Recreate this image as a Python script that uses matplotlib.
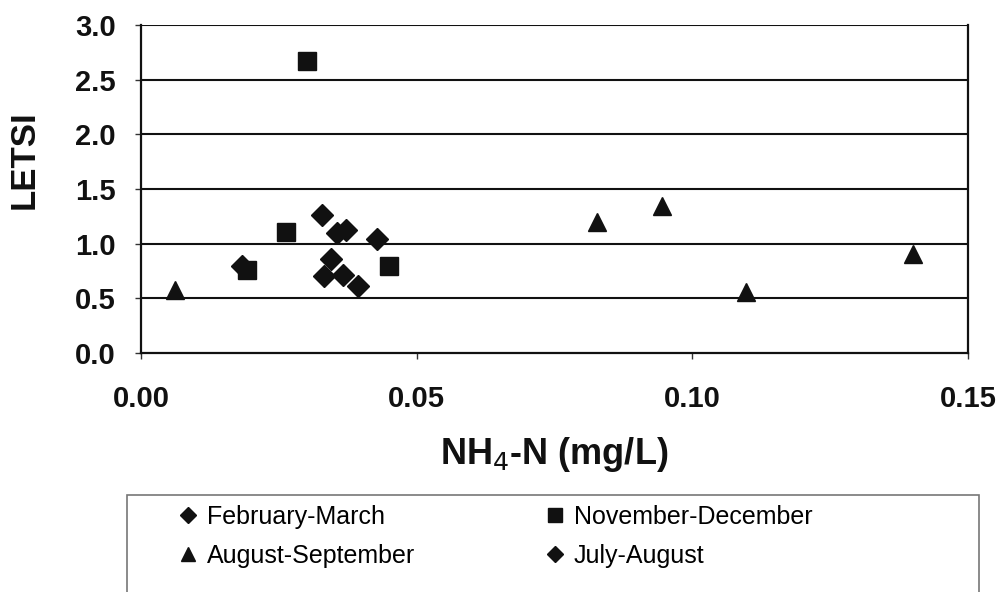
import numpy as np
import matplotlib
matplotlib.use("Agg")
import matplotlib.pyplot as plt
from matplotlib.patches import Rectangle

plt.rcParams['font.family'] = ['Liberation Sans', 'DejaVu Sans']

# data
feb_mar_x = [0.0183, 0.0328, 0.0356, 0.0372, 0.0428]
feb_mar_y = [0.80, 1.26, 1.10, 1.125, 1.04]
nov_dec_x = [0.0192, 0.0263, 0.0301, 0.0450]
nov_dec_y = [0.76, 1.11, 2.67, 0.80]
aug_sep_x = [0.0062, 0.0827, 0.0945, 0.1097, 0.1400]
aug_sep_y = [0.58, 1.20, 1.34, 0.56, 0.91]
jul_aug_x = [0.0345, 0.0332, 0.0366, 0.0394]
jul_aug_y = [0.86, 0.70, 0.71, 0.61]

xticks = [0.00, 0.05, 0.10, 0.15]
yticks = [0.0, 0.5, 1.0, 1.5, 2.0, 2.5, 3.0]

mk = '#111111'

fig = plt.figure(figsize=(10.04, 5.92), dpi=100)
ax = fig.add_axes([0.1404, 0.4037, 0.8237, 0.5541])

for y in yticks[1:]:
    ax.axhline(y, color='#111111', lw=1.5, zorder=1)

h1, = ax.plot(feb_mar_x, feb_mar_y, ls='none', marker='D', ms=11, color=mk, zorder=3)
h2, = ax.plot(nov_dec_x, nov_dec_y, ls='none', marker='s', ms=13.5, color=mk, zorder=3)
h3, = ax.plot(aug_sep_x, aug_sep_y, ls='none', marker='^', ms=13, color=mk, zorder=3)
h4, = ax.plot(jul_aug_x, jul_aug_y, ls='none', marker='D', ms=11, color=mk, zorder=3)

ax.set_xlim(0, 0.15)
ax.set_ylim(0, 3.0)
ax.set_xticks(xticks)
ax.set_xticklabels(['%.2f' % v for v in xticks])
ax.set_yticks(yticks)
ax.set_yticklabels(['%.1f' % v for v in yticks])
ax.tick_params(direction='out', length=4, width=1, color='#333333', labelsize=21)
ax.tick_params(axis='y', pad=14)
ax.tick_params(axis='x', pad=19)
for lab in ax.get_xticklabels() + ax.get_yticklabels():
    lab.set_fontweight('bold')
    lab.set_color('#111111')

for side in ['left', 'bottom', 'right']:
    ax.spines[side].set_linewidth(1.6)
    ax.spines[side].set_color('#111111')
ax.spines['top'].set_visible(False)

ax.set_xlabel('NH$_4$-N (mg/L)', fontsize=26, fontweight='bold', color='#111111')
ax.xaxis.set_label_coords(0.5, -0.25)
ax.set_ylabel('LETSI', fontsize=25, fontweight='bold', color='#111111')
ax.yaxis.set_label_coords(-0.121, 0.59)

fig.patches.append(Rectangle((0.1265, -0.01), 0.8486, 0.1739, transform=fig.transFigure,
                             fill=False, edgecolor='#777777', lw=1.2))
leg = fig.legend([h1, h3, h2, h4],
                 ['February-March', 'August-September', 'November-December', 'July-August'],
                 ncol=2, loc='upper left', bbox_to_anchor=(0.16, 0.177), frameon=False,
                 fontsize=18, handlelength=0.8, handletextpad=0.35, columnspacing=5.2,
                 labelspacing=0.6, markerscale=0.75, borderpad=0.2)

fig.savefig('out.png', dpi=100)
